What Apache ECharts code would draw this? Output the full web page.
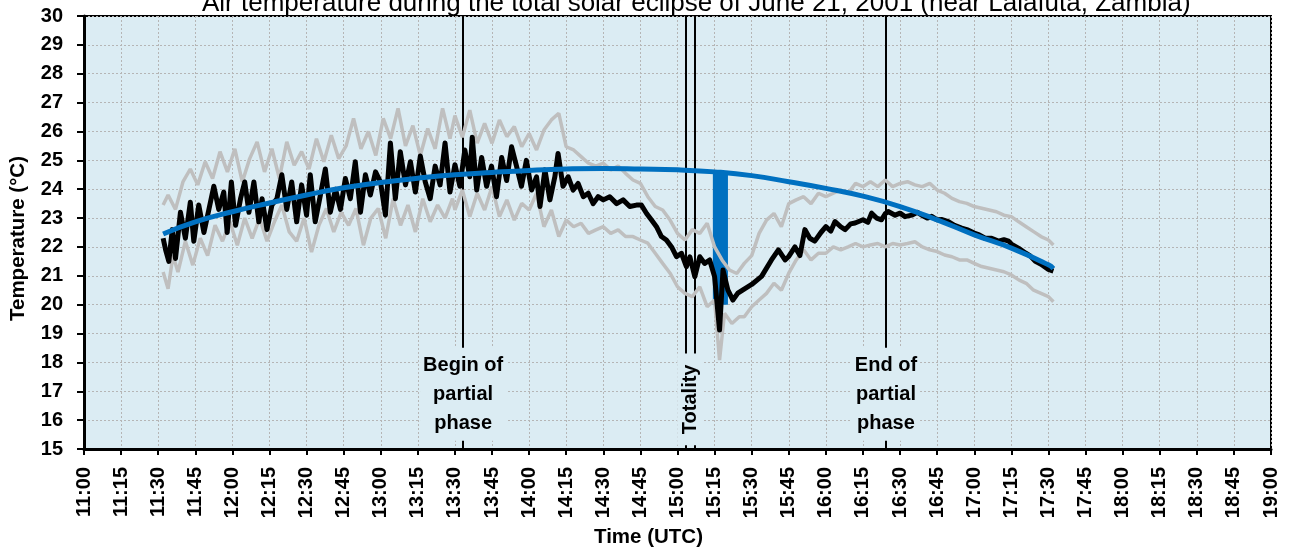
<!DOCTYPE html>
<html><head><meta charset="utf-8">
<script src="https://cdn.jsdelivr.net/npm/echarts/dist/echarts.min.js"></script>
<style>html,body{margin:0;padding:0;background:#fff}#c{width:1298px;height:550px}</style>
</head><body><div id="c"></div><script>
// times are minutes since midnight
const titleText = 'Air temperature during the total solar eclipse of June 21, 2001 (near Lalafuta, Zambia)';
const xName = 'Time (UTC)';
const yName = 'Temperature (°C)';

const fitTimes = [692,705,720,735,750,765,780,795,810,825,840,855,870,885,900,915,930,945,960,975,990,1005,1020,1035,1050,1052];
const fitTemps = [22.45,22.87,23.22,23.52,23.8,24.05,24.23,24.38,24.5,24.58,24.65,24.7,24.72,24.7,24.67,24.6,24.47,24.26,24.03,23.76,23.4,22.94,22.42,21.96,21.38,21.25];

const meanTimes = [692,693,694.3,695.7,697,699,701,703,704.4,706.4,708.5,710.5,712.5,714.5,716.5,717.9,719.6,721.3,723.3,725,726.7,728.7,730.7,732,734,736,738,740,742,744,746,748,750,751.5,753.5,755.6,757.6,759.6,761.7,763.7,765.7,767.7,769.7,771.8,773.8,775.8,777.9,779.9,781.9,783.9,785.9,787.9,790,792,794,796,798,800,802,804,806,808,810,812,814,816,817,818.8,820.8,822.8,824.8,826.8,828.9,830.9,832.9,834.9,836.9,838.9,841,843,844.4,846.4,848.4,850.4,851.7,853.7,855.8,857.8,859.8,861.9,863.9,865.9,867.9,870,872.6,875.4,878,880.7,883.4,885.4,887.5,889.5,891.5,893.5,895.5,897.6,899.6,901.6,903.6,905,907,909,911,913,915,917,918.4,920.4,922.4,924.4,927.1,930,934,938,940.8,943.5,945,947.5,949.5,951.5,953.5,955.5,958,960,962,963.7,966,967.8,970,971.8,975,977,978.5,980.5,982.5,984,985.2,988,990,992,994.7,997,998.8,1001,1002.8,1005,1007,1009.5,1012,1014.9,1017,1020,1022,1024.4,1027,1029.8,1032,1033.9,1035,1038,1040.7,1042.5,1044.7,1047,1050,1052];
const meanTemps = [22.3,21.9,21.5,22.6,21.6,23.2,22.3,23.55,22.2,23.45,22.5,23.3,24.1,23.3,23.9,22.5,24.25,22.75,23.67,24.25,23.2,24.25,22.87,23.67,22.6,23.45,23.67,24.5,23.3,24.25,22.87,24.15,23.1,24.5,22.87,23.8,24.7,23.2,24.0,23.3,24.37,23.67,24.95,23.2,24.5,23.8,24.6,24.25,23.1,25.6,23.67,25.3,24.15,24.95,23.9,25.15,24.25,23.67,24.8,24.15,25.6,23.9,24.85,24.1,25.36,24.43,25.8,23.97,25.1,24.1,24.8,23.74,25.1,24.3,25.47,24.8,24.1,25.0,23.97,24.43,23.4,24.67,23.63,24.43,25.24,24.1,24.43,23.97,24.2,23.74,23.86,23.5,23.74,23.63,23.74,23.5,23.63,23.4,23.45,23.45,23.16,22.93,22.7,22.36,22.24,22.0,21.66,21.78,21.32,21.66,20.97,21.66,21.43,21.55,20.97,19.12,21.2,20.5,20.16,20.4,20.55,20.7,20.98,21.55,21.9,21.55,21.67,22.0,21.7,22.6,22.3,22.2,22.5,22.7,22.55,22.88,22.7,22.6,22.8,22.83,22.94,22.85,23.17,23.0,22.94,23.15,23.23,23.1,23.17,23.05,23.1,23.2,23.1,23.0,23.06,22.94,22.95,22.88,22.75,22.65,22.6,22.48,22.42,22.3,22.3,22.2,22.25,22.2,22.1,21.95,21.79,21.7,21.5,21.4,21.22,21.16];

const upperTimes = [692,694,697,700,703,706,709,712,715,718,721,724,727,730,733,736,739,742,745,748,751,754,757,760,763,766,769,772,775,778,781,784,787,790,793,796,799,802,805,808,810,813,816,819,822,825,828,831,834,837,840,843,846,849,852,855,858,861,864,867,870,873,876,879,882,885,888,891,894,897,900,903,906,909,912,915,918,921,924,927,930,933,936,939,942,945,948,951,954,957,960,963,966,969,972,975,978,981,984,987,990,993,996,999,1002,1005,1008,1011,1014,1017,1020,1023,1026,1029,1032,1035,1038,1041,1044,1047,1050,1052];
const upperTemps = [23.45,23.8,23.3,24.25,24.7,24.15,24.95,24.37,25.3,24.6,25.4,24.25,25.06,25.64,24.6,25.4,24.37,25.64,24.83,25.3,24.7,25.75,24.95,25.87,25.06,25.5,26.45,25.4,26.0,25.17,26.45,25.75,26.8,25.5,26.2,25.17,26.1,25.4,26.8,25.75,26.55,25.8,26.74,25.6,26.28,25.59,26.4,25.82,26.17,25.47,25.93,25.36,26.05,26.4,26.63,25.47,25.36,25.13,24.9,24.8,24.9,24.67,24.8,24.55,24.32,24.2,23.74,23.4,23.28,22.93,22.47,22.24,22.6,22.47,22.82,22.0,21.55,21.2,21.08,21.43,21.7,22.47,22.93,23.16,22.7,23.5,23.63,23.74,23.5,23.86,23.74,23.86,23.97,23.86,24.2,24.09,24.26,24.09,24.32,24.09,24.2,24.26,24.15,24.09,24.2,23.97,23.86,23.68,23.57,23.51,23.4,23.34,23.28,23.22,23.1,23.05,22.87,22.7,22.53,22.36,22.24,22.07];

const lowerTimes = [692,694,696,698,701,704,707,710,713,716,719,722,725,728,731,734,737,740,743,746,749,752,755,758,761,764,767,770,773,776,779,782,785,788,791,794,797,800,803,806,809,810,813,816,819,822,825,828,831,834,837,840,843,846,849,852,855,858,861,864,867,870,873,876,879,882,885,888,891,894,897,900,903,906,909,912,915,917,919,922,925,927,930,933,936,939,942,945,948,951,954,957,960,963,966,969,972,975,978,981,984,987,990,993,996,999,1002,1005,1008,1011,1014,1017,1020,1023,1026,1029,1032,1035,1038,1041,1044,1047,1050,1052];
const lowerTemps = [21.13,20.55,21.7,21.13,22.2,21.37,22.3,21.7,22.75,22.2,22.87,22.06,23.0,22.3,23.0,22.2,22.87,23.45,22.52,22.2,23.0,21.82,22.75,23.33,22.52,23.2,22.75,23.33,22.06,23.0,23.33,22.3,23.67,22.75,23.45,22.52,23.67,22.87,23.45,23.0,23.67,23.28,23.97,23.05,23.86,23.28,24.09,23.05,23.63,22.93,23.51,23.28,23.86,22.7,23.28,22.36,22.93,22.7,22.82,22.47,22.59,22.7,22.47,22.59,22.36,22.36,22.24,22.13,21.78,21.43,21.09,20.62,20.39,20.28,20.62,19.93,20.16,18.08,19.7,19.35,19.58,19.58,19.93,20.16,20.39,20.74,20.5,21.09,21.55,21.9,21.55,21.78,21.78,22.0,21.9,22.0,22.12,22.0,22.07,22.12,22.0,22.12,22.07,22.12,22.18,22.0,21.9,21.84,21.72,21.66,21.55,21.55,21.43,21.32,21.26,21.2,21.14,21.03,20.86,20.74,20.5,20.39,20.28,20.1];

const eventTimes = [813.3, 903.4, 906.9, 984.3];
const dropTimes = [914.3, 920.4];
const dropTemps = [20.0, 24.6];
const labelTexts = ['Begin of\npartial\nphase', 'Totality', 'End of\npartial\nphase'];
const labelTimes = [813.3, 905.15, 984.3];
const labelTemps = [16.9, 16.72, 16.9];

const zip = (a, b) => a.map((t, i) => [t, b[i]]);
const fmt = v => { const h = Math.floor(v / 60), m = Math.round(v % 60); return h + ':' + String(m).padStart(2, '0'); };
const FONT = '"Liberation Sans", Arial, sans-serif';
const BG = '#dbecf3';

const chart = echarts.init(document.getElementById('c'), null, { renderer: 'canvas' });
chart.setOption({
  animation: false,
  title: { text: titleText, left: 197, top: -14, textStyle: { fontFamily: FONT, fontSize: 26, fontWeight: 'normal', color: '#000' } },
  grid: { left: 84, right: 27, top: 16, bottom: 101, outerBoundsMode: 'none', containLabel: false, show: true, backgroundColor: BG, borderColor: '#000', borderWidth: 2 },
  xAxis: {
    type: 'value', min: 660, max: 1140, interval: 15,
    name: xName, nameLocation: 'middle', nameGap: 78,
    nameTextStyle: { fontFamily: FONT, fontSize: 20.5, fontWeight: 'bold', color: '#000', padding: [0, 58, 0, 0] },
    axisLine: { show: true, lineStyle: { color: '#000', width: 3 } },
    axisTick: { show: true, length: 6, lineStyle: { color: '#000', width: 2 } },
    axisLabel: { rotate: 90, margin: 18, formatter: fmt, fontFamily: FONT, fontSize: 20, fontWeight: 'bold', color: '#000' },
    splitLine: { show: true, lineStyle: { color: '#b5b5b5', width: 1, type: [2, 2] } }
  },
  yAxis: {
    type: 'value', min: 15, max: 30, interval: 1,
    name: yName, nameLocation: 'middle', nameGap: 55, nameRotate: 90,
    nameTextStyle: { fontFamily: FONT, fontSize: 20.5, fontWeight: 'bold', color: '#000', padding: [0, 12, 0, 0] },
    axisLine: { show: true, lineStyle: { color: '#000', width: 3 } },
    axisTick: { show: true, length: 7, lineStyle: { color: '#000', width: 2 } },
    axisLabel: { margin: 21, fontFamily: FONT, fontSize: 20, fontWeight: 'bold', color: '#000' },
    splitLine: { show: true, lineStyle: { color: '#b5b5b5', width: 1, type: [2, 2] } }
  },
  series: [
    {
      name: 'lower', type: 'line', data: zip(lowerTimes, lowerTemps), showSymbol: false, z: 2,
      lineStyle: { color: '#bfbfbf', width: 3.5 }, silent: true,
      markLine: {
        z: 1, silent: true, symbol: ['none', 'none'], label: { show: false },
        lineStyle: { color: '#000', width: 2, type: 'solid' },
        data: eventTimes.map(t => ({ xAxis: t }))
      },
      markArea: {
        z: 1, silent: true, itemStyle: { color: '#0070c0', opacity: 1 },
        data: [[{ coord: [dropTimes[0], dropTemps[0]] }, { coord: [dropTimes[1], dropTemps[1]] }]]
      }
    },
    { name: 'upper', type: 'line', data: zip(upperTimes, upperTemps), showSymbol: false, z: 2, silent: true, lineStyle: { color: '#bfbfbf', width: 3.5 } },
    { name: 'mean', type: 'line', data: zip(meanTimes, meanTemps), showSymbol: false, z: 3, silent: true, lineStyle: { color: '#000', width: 5, join: 'round' } },
    { name: 'fit', type: 'line', data: zip(fitTimes, fitTemps), showSymbol: false, smooth: true, z: 4, silent: true, lineStyle: { color: '#0070c0', width: 5 } },
    {
      name: 'labels', type: 'scatter', z: 6, silent: true, symbolSize: 1, itemStyle: { color: BG, opacity: 1 },
      labelLayout: { hideOverlap: false },
      data: labelTimes.map((t, i) => ({
        value: [t, labelTemps[i]],
        label: {
          show: true, position: 'inside', formatter: labelTexts[i], opacity: 1,
          rotate: i === 1 ? 90 : 0,
          fontFamily: FONT, fontSize: 20, fontWeight: 'bold', color: '#000', lineHeight: i === 1 ? 22 : 29,
          backgroundColor: BG, padding: i === 1 ? [2, 11] : [3, 3], align: 'center', verticalAlign: 'middle'
        }
      }))
    }
  ]
});
</script></body></html>
